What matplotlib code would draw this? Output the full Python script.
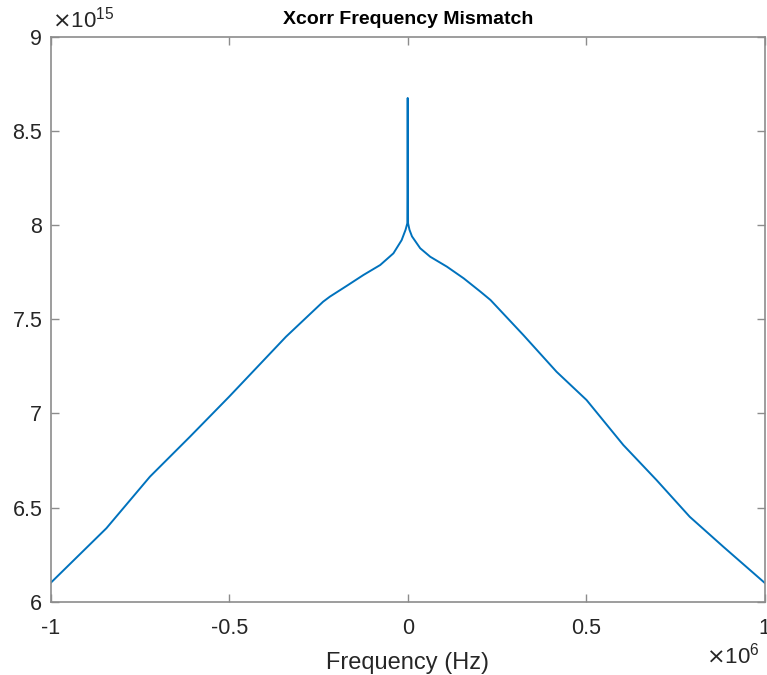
import matplotlib
matplotlib.use("Agg")
import matplotlib.pyplot as plt
from matplotlib.ticker import FuncFormatter

plt.rcParams['font.family'] = ['Liberation Sans', 'DejaVu Sans']
plt.rcParams['axes.unicode_minus'] = False

# frequency in units of 1e6 Hz, correlation in units of 1e15
freq = [-1.0, -0.844, -0.722, -0.610, -0.5, -0.341, -0.237, -0.218, -0.171,
        -0.124, -0.077, -0.040, -0.017, -0.006, -0.001, 0.0, 0.001, 0.005,
        0.012, 0.035, 0.063, 0.110, 0.157, 0.204, 0.232, 0.324, 0.417,
        0.501, 0.604, 0.697, 0.790, 0.884, 1.0]
xcorr = [6.10, 6.39, 6.664, 6.876, 7.089, 7.407, 7.593, 7.62, 7.677,
         7.735, 7.788, 7.85, 7.92, 7.975, 8.01, 8.675, 8.01, 7.975,
         7.94, 7.877, 7.832, 7.779, 7.717, 7.646, 7.602, 7.416, 7.221,
         7.071, 6.832, 6.646, 6.451, 6.292, 6.10]

xticks = [-1, -0.5, 0, 0.5, 1]
yticks = [6, 6.5, 7, 7.5, 8, 8.5, 9]

fig = plt.figure(figsize=(7.67, 6.75), dpi=100)
ax = fig.add_axes([0.0661, 0.1086, 0.9309, 0.8369])

ax.plot(freq, xcorr, color='#0072BD', linewidth=1.4)

ax.set_xlim(-1, 1)
ax.set_ylim(6, 9)
ax.set_xticks(xticks)
ax.set_yticks(yticks)
fmt = FuncFormatter(lambda v, p: '%g' % v)
ax.xaxis.set_major_formatter(fmt)
ax.yaxis.set_major_formatter(fmt)

for s in ax.spines.values():
    s.set_color('#8c8c8c')
    s.set_linewidth(1.2)
ax.tick_params(direction='in', length=6, width=1, color='#8c8c8c',
               top=True, right=True, labelsize=15.5, labelcolor='#262626')
ax.tick_params(axis='x', pad=12)
ax.tick_params(axis='y', pad=6)

ax.set_title('Xcorr Frequency Mismatch', fontsize=14, fontweight='bold',
             color='black', pad=9)
ax.set_xlabel('Frequency (Hz)', fontsize=17, color='#262626', labelpad=9)

ax.text(0.002, 1.008, r'$\times\mathregular{10^{15}}$', transform=ax.transAxes,
        fontsize=16, color='#262626', ha='left', va='bottom')
ax.text(0.993, -0.072, r'$\times\mathregular{10^{6}}$', transform=ax.transAxes,
        fontsize=16, color='#262626', ha='right', va='top')

fig.savefig('out.png', dpi=100)
